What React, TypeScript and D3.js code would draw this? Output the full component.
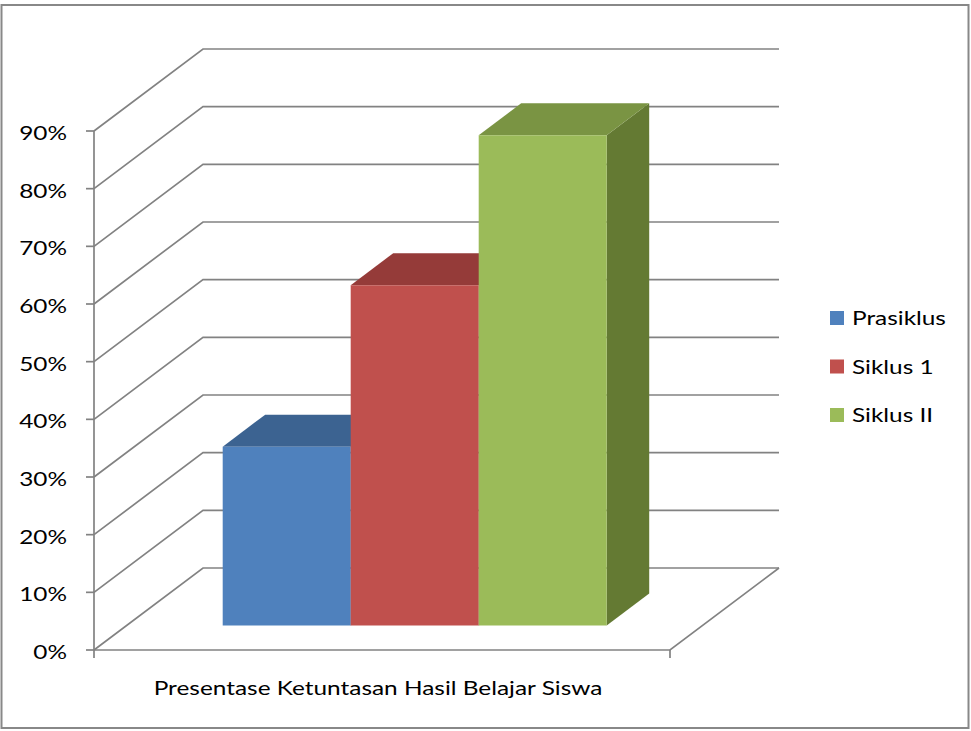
import React from "react";
import * as d3 from "d3";

const categories = ["Presentase Ketuntasan Hasil Belajar Siswa"];
const seriesNames = ["Prasiklus", "Siklus 1", "Siklus II"];
const seriesValues = [0.31, 0.59, 0.85];
const tickValues = [0, 0.1, 0.2, 0.3, 0.4, 0.5, 0.6, 0.7, 0.8, 0.9];
const tickLabels = ["0%", "10%", "20%", "30%", "40%", "50%", "60%", "70%", "80%", "90%"];

const frontColors = ["#4f81bd", "#c0504d", "#9bbb59"];
const topColors = ["#3c6391", "#953b39", "#7a9443"];
const sideColors = ["#335580", "#7f302e", "#647a33"];

const W = 971;
const H = 731;
const FRONT_LEFT = 94;
const FRONT_RIGHT = 670;
const DEPTH_DX = 109;
const DEPTH_DY = 82;
const BAR_D0 = 0.3;
const BAR_D1 = 0.69;
const GRID = "#828282";
const FONT = "Lato, 'Open Sans', sans-serif";
const SX = 1.22;

export default function App() {
  const y = d3.scaleLinear().domain([0, 0.9]).range([650, 131]);
  const x = d3
    .scaleBand<string>()
    .domain(seriesNames)
    .range([FRONT_LEFT, FRONT_RIGHT])
    .paddingInner(0)
    .paddingOuter(0.75);
  const proj = (px: number, v: number, d: number): [number, number] => [
    px + d * DEPTH_DX,
    y(v) - d * DEPTH_DY,
  ];
  const line = d3.line();
  const poly = (pts: [number, number][]) => line(pts) + "Z";

  const backRight = FRONT_RIGHT + DEPTH_DX;

  return (
    <svg
      width={W}
      height={H}
      style={{ position: "absolute", left: 0, top: 0, background: "#fff" }}
    >
      <rect x={1.5} y={5} width={967} height={723} fill="#fff" stroke="#888" strokeWidth={2} />
      {/* gridlines */}
      <g stroke={GRID} strokeWidth={1.7} fill="none">
        {tickValues.map((v, i) => (
          <path
            key={i}
            d={
              line([
                proj(FRONT_LEFT, v, 0),
                proj(FRONT_LEFT, v, 1),
                [backRight, proj(FRONT_LEFT, v, 1)[1]],
              ]) || ""
            }
          />
        ))}
        {/* floor */}
        <path
          d={
            line([
              proj(FRONT_LEFT, 0, 0),
              proj(FRONT_RIGHT, 0, 0),
              proj(FRONT_RIGHT, 0, 1),
            ]) || ""
          }
        />
        {/* vertical axis */}
        <path d={line([[FRONT_LEFT, y(0.9)], [FRONT_LEFT, y(0) + 8]]) || ""} />
        <path d={line([[FRONT_RIGHT, y(0)], [FRONT_RIGHT, y(0) + 8]]) || ""} />
        {tickValues.map((v, i) => (
          <path key={"t" + i} d={line([[FRONT_LEFT - 8, y(v)], [FRONT_LEFT, y(v)]]) || ""} />
        ))}
      </g>
      {/* bars */}
      {seriesNames.map((s, i) => {
        const x0 = x(s) as number;
        const x1 = x0 + x.bandwidth();
        const v = seriesValues[i];
        const front = poly([
          proj(x0, 0, BAR_D0),
          proj(x1, 0, BAR_D0),
          proj(x1, v, BAR_D0),
          proj(x0, v, BAR_D0),
        ]);
        const top = poly([
          proj(x0, v, BAR_D0),
          proj(x1, v, BAR_D0),
          proj(x1, v, BAR_D1),
          proj(x0, v, BAR_D1),
        ]);
        const side = poly([
          proj(x1, 0, BAR_D0),
          proj(x1, 0, BAR_D1),
          proj(x1, v, BAR_D1),
          proj(x1, v, BAR_D0),
        ]);
        return (
          <g key={s}>
            <path d={side} fill={sideColors[i]} />
            <path d={top} fill={topColors[i]} />
            <path d={front} fill={frontColors[i]} />
          </g>
        );
      })}
      {/* tick labels */}
      <g fontFamily={FONT} fontSize={20} fill="#000">
        {tickValues.map((v, i) => (
          <text
            key={i}
            transform={`translate(67,${y(v) + 2}) scale(${SX},1)`}
            textAnchor="end"
            dy="0.35em"
          >
            {tickLabels[i]}
          </text>
        ))}
        <text transform={`translate(378,695) scale(${SX},1)`} textAnchor="middle">
          {categories[0]}
        </text>
        {seriesNames.map((s, i) => {
          const cy = 318 + i * 48.5;
          return (
            <g key={s}>
              <rect x={830} y={cy - 7} width={14} height={14} fill={frontColors[i]} />
              <text transform={`translate(852,${cy}) scale(${SX},1)`} dy="0.35em">
                {s}
              </text>
            </g>
          );
        })}
      </g>
    </svg>
  );
}
